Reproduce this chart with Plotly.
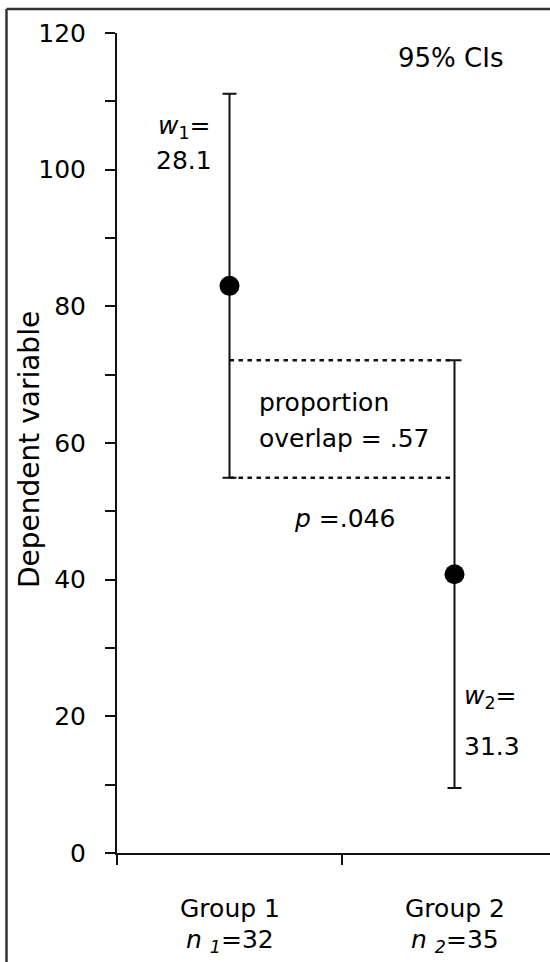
import plotly.graph_objects as go

# ---- data ----
groups = ["Group 1", "Group 2"]
group_x = [0.5, 1.5]
means = [83.0, 40.8]
half_widths = [28.1, 31.3]
n_labels = ["<i>n</i> <sub><i>1</i></sub>=32", "<i>n</i> <sub><i>2</i></sub>=35"]
w_labels = ["<i>w</i><sub>1</sub>=", "<i>w</i><sub>2</sub>="]
y_tickvals = [0, 20, 40, 60, 80, 100, 120]
y_ticktext = ["0", "20", "40", "60", "80", "100", "120"]
overlap_text = ["proportion", "overlap = .57"]
p_text = "<i>p</i> =.046"
ci_text = "95% CIs"
y_title = "Dependent variable"

FONT = "DejaVu Sans"
INK = "#111111"

lower1 = means[0] - half_widths[0]
upper2 = means[1] + half_widths[1]

fig = go.Figure()

# dotted overlap lines
for yv in [upper2, lower1]:
    fig.add_trace(go.Scatter(
        x=[group_x[0], group_x[1]], y=[yv, yv], mode="lines",
        line=dict(color=INK, width=2.5, dash="4.5px,4.5px"),
        hoverinfo="skip", showlegend=False))

# means with CIs
fig.add_trace(go.Scatter(
    x=group_x, y=means, mode="markers",
    marker=dict(size=20, color="black"),
    error_y=dict(type="data", array=half_widths, symmetric=True,
                 color=INK, thickness=2, width=7),
    showlegend=False))

ann = []
def A(text, x, y, xanchor="center", xref="x", yref="y", size=25, angle=0):
    ann.append(dict(text=text, x=x, y=y, xref=xref, yref=yref, xanchor=xanchor,
                    yanchor="middle", showarrow=False, textangle=angle,
                    font=dict(family=FONT, size=size, color="black")))

A(ci_text, 1.484, 116.3, size=26)
A(w_labels[0], 0.428, 106.3, xanchor="right")
A(f"{half_widths[0]}", 0.431, 101.4, xanchor="right")
A(w_labels[1], 1.533, 22.9, xanchor="left")
A(f"{half_widths[1]}", 1.533, 15.6, xanchor="left")
A(overlap_text[0], 0.622, 66.0, xanchor="left")
A(overlap_text[1], 0.622, 60.7, xanchor="left")
A(p_text, 1.009, 49.0)
for gx, g, nl in zip(group_x, groups, n_labels):
    A(g, gx, -0.0671, yref="paper")
    A(nl, gx, -0.1075, yref="paper")
A(y_title, -0.2009, 0.4915, xref="paper", yref="paper", size=28, angle=-90)

fig.update_layout(
    width=550, height=962,
    margin=dict(l=117, r=0, t=33, b=109),
    plot_bgcolor="white", paper_bgcolor="white",
    annotations=ann,
    shapes=[
        dict(type="line", xref="paper", yref="paper", x0=-0.2552, x1=-0.2552,
             y0=1.0293, y1=-0.2, line=dict(color="#333333", width=2.5)),
        dict(type="line", xref="paper", yref="paper", x0=-0.2552, x1=1.1,
             y0=1.0293, y1=1.0293, line=dict(color="#333333", width=2.5)),
    ],
    xaxis=dict(range=[0, 433 / 225], tickvals=[0, 1], showticklabels=False,
               ticks="outside", ticklen=10, tickwidth=2, tickcolor=INK,
               showline=True, linewidth=2, linecolor=INK,
               showgrid=False, zeroline=False, fixedrange=True),
    yaxis=dict(range=[0, 120], tickvals=y_tickvals, ticktext=y_ticktext,
               ticks="outside", ticklen=10, tickwidth=2, tickcolor=INK,
               minor=dict(dtick=10, ticks="outside", ticklen=10, tickwidth=2,
                          tickcolor=INK, showgrid=False),
               showline=True, linewidth=2, linecolor=INK,
               showgrid=False, zeroline=False, ticklabelstandoff=14,
               tickfont=dict(family=FONT, size=25, color="black")),
)

fig.write_html("out.html", config={"displayModeBar": False},
               post_script="document.body.style.margin='0px';document.body.style.padding='0px';")
